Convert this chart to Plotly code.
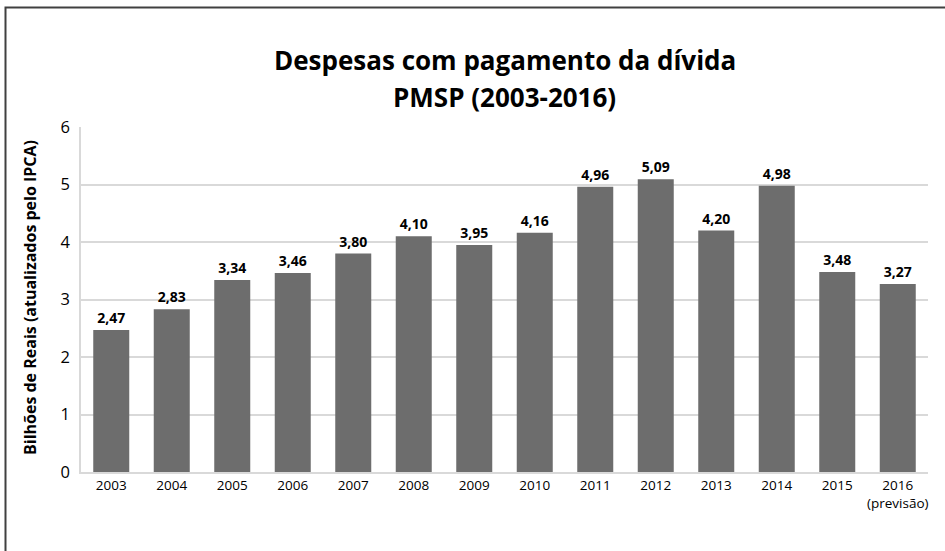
import plotly.graph_objects as go

years = ["2003", "2004", "2005", "2006", "2007", "2008", "2009", "2010",
         "2011", "2012", "2013", "2014", "2015", "2016<br>(previsão)"]
values = [2.47, 2.83, 3.34, 3.46, 3.80, 4.10, 3.95, 4.16,
          4.96, 5.09, 4.20, 4.98, 3.48, 3.27]
y_ticks = [0, 1, 2, 3, 4, 5, 6]
title_lines = ["Despesas com pagamento da dívida", "PMSP (2003-2016)"]
y_title = "Bilhões de Reais (atualizados pelo IPCA)"

W, H = 945, 551
L, R, T, B = 81, 17, 127, 79
pw, ph = W - L - R, H - T - B

def px_x(x):
    return (x - L) / pw

def px_y(y):
    return (H - B - y) / ph

FONT = "Open Sans"

fig = go.Figure(go.Bar(
    x=years, y=values,
    marker=dict(color="#6d6d6d", line=dict(width=0)),
    texttemplate="%{y:.2f}", textposition="outside",
    constraintext="none",
    textfont=dict(family=FONT, size=14, color="#000000", weight="bold"),
    cliponaxis=False,
))

fig.update_layout(
    width=W, height=H,
    margin=dict(l=L, r=R, t=T, b=B),
    paper_bgcolor="white", plot_bgcolor="white",
    separators=",.",
    bargap=0.405,
    showlegend=False,
    font=dict(family=FONT, color="#000000"),
    xaxis=dict(
        showgrid=False, showline=True, linecolor="#d9d9d9", linewidth=1.5,
        ticks="", tickfont=dict(size=13.5, family=FONT),
    ),
    yaxis=dict(
        range=[0, 6], tickvals=y_ticks, showgrid=True, gridcolor="#d9d9d9",
        gridwidth=1.5, showline=True, linecolor="#d9d9d9", linewidth=1.5,
        zeroline=False, ticks="", tickfont=dict(size=16.5, family=FONT),
        ticklabelstandoff=6,
    ),
)

ann = []
ann.append(dict(text="<b>" + title_lines[0] + "</b>", xref="paper", yref="paper",
                x=0.5, y=px_y(60), xanchor="center", yanchor="middle",
                showarrow=False, font=dict(size=26, family=FONT)))
ann.append(dict(text="<b>" + title_lines[1] + "</b>", xref="paper", yref="paper",
                x=0.5, y=px_y(97), xanchor="center", yanchor="middle",
                showarrow=False, font=dict(size=26, family=FONT)))
ann.append(dict(text="<b>" + y_title + "</b>", xref="paper", yref="paper",
                x=px_x(30), y=px_y(298), xanchor="center", yanchor="middle",
                textangle=-90, showarrow=False, font=dict(size=16, family=FONT)))
fig.update_layout(annotations=ann)

fig.add_shape(type="rect", xref="paper", yref="paper",
              x0=px_x(5.5), y0=px_y(H + 20), x1=px_x(W + 20), y1=px_y(7.5),
              line=dict(color="#404040", width=2), fillcolor="rgba(0,0,0,0)",
              layer="below")

fig.write_html("out.html",
               config={"displayModeBar": False},
               post_script="document.body.style.margin='0';document.body.style.overflow='hidden';")
